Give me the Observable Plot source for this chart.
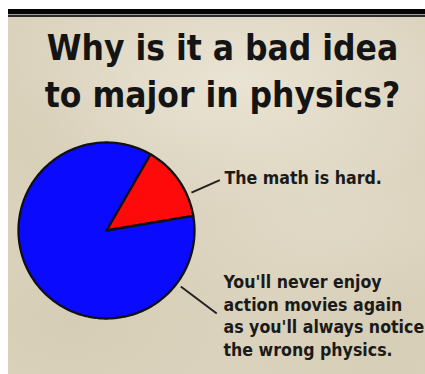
<!DOCTYPE html>
<html>
<head>
<meta charset="utf-8">
<script src="https://cdn.jsdelivr.net/npm/d3@7"></script>
<script src="https://cdn.jsdelivr.net/npm/@observablehq/plot@0.6"></script>
<style>
  html, body { margin: 0; padding: 0; background: #fff; }
  #frame { position: relative; width: 425px; height: 374px; background: #fff; overflow: hidden; }
  #panel {
    position: absolute; left: 8px; top: 9px; right: 0; bottom: 0;
    background:
      linear-gradient(to bottom, #050505 0px, #050505 5px, #9c9c9c 5px, #9c9c9c 6.5px, #2b2b2b 6.5px, #2b2b2b 8px, rgba(0,0,0,0) 8px),
      radial-gradient(ellipse 60% 35% at 55% 20%, rgba(238,232,218,0.8), rgba(238,232,218,0) 100%),
      radial-gradient(ellipse 40% 30% at 75% 55%, rgba(230,223,206,0.55), rgba(230,223,206,0) 100%),
      radial-gradient(ellipse 35% 25% at 15% 85%, rgba(206,196,170,0.35), rgba(206,196,170,0) 100%),
      radial-gradient(ellipse 30% 30% at 90% 92%, rgba(208,198,174,0.35), rgba(208,198,174,0) 100%),
      radial-gradient(ellipse 30% 25% at 10% 30%, rgba(208,198,172,0.35), rgba(208,198,172,0) 100%),
      #dad2bc;
  }
  #chart { position: absolute; left: 0; top: 0; }
</style>
</head>
<body>
<div id="frame">
  <div id="panel"></div>
  <div id="chart"></div>
</div>
<script>
// ---- data ----
const titleLines = ["Why is it a bad idea", "to major in physics?"];
const categories = ["The math is hard.", "You'll never enjoy\naction movies again\nas you'll always notice\nthe wrong physics."];
const values = [14, 86];

// ---- style / layout ----
const sliceColors = ["#ff0a0a", "#0a0aff"];
const W = 425, H = 374;
const cx = 106, cy = 230, R = 88;
const startDeg = 30;
const labelAngles = [66, 127];     // leader-line directions (deg clockwise from 12 o'clock)
const leaderR = [[93, 124], [93, 138]];
const labelPos = [{x: 224, y: 183}, {x: 223, y: 355}];
const titleBaselines = [59, 106];
const fontFam = "'DejaVu Sans Condensed', 'DejaVu Sans', sans-serif";

const rad = d => d * Math.PI / 180;
const pie = d3.pie().sort(null).value(d => d.value).startAngle(rad(startDeg)).endAngle(rad(startDeg + 360));
const slices = pie(categories.map((c, i) => ({category: c, value: values[i], color: sliceColors[i]})));

function slicePoints(s) {
  const pts = [{x: cx, y: cy}];
  const n = Math.max(2, Math.ceil((s.endAngle - s.startAngle) / rad(1)));
  for (let k = 0; k <= n; ++k) {
    const a = s.startAngle + (s.endAngle - s.startAngle) * k / n;
    pts.push({x: cx + R * Math.sin(a), y: cy - R * Math.cos(a)});
  }
  pts.push({x: cx, y: cy});
  return pts;
}

const leaders = categories.map((c, i) => {
  const a = rad(labelAngles[i]);
  return {
    x1: cx + leaderR[i][0] * Math.sin(a), y1: cy - leaderR[i][0] * Math.cos(a),
    x2: cx + leaderR[i][1] * Math.sin(a), y2: cy - leaderR[i][1] * Math.cos(a)
  };
});

const titleData = titleLines.map((t, i) => ({text: t, x: 222, y: titleBaselines[i]}));
const labelData = categories.map((t, i) => ({text: t, ...labelPos[i]}));

const chart = Plot.plot({
  width: W, height: H, margin: 0,
  x: {domain: [0, W], range: [0, W], axis: null},
  y: {domain: [0, H], range: [0, H], axis: null},
  style: {background: "transparent", overflow: "visible"},
  marks: [
    ...slices.map(s => Plot.line(slicePoints(s), {
      x: "x", y: "y", fill: s.data.color, stroke: "#111", strokeWidth: 2.3,
      strokeLinejoin: "round", curve: "linear"
    })),
    Plot.link(leaders, {x1: "x1", y1: "y1", x2: "x2", y2: "y2", stroke: "#222", strokeWidth: 2}),
    Plot.text(titleData, {
      x: "x", y: "y", text: "text", textAnchor: "middle", lineAnchor: "bottom",
      fontSize: 35, fontWeight: "bold", fontFamily: fontFam, fill: "#141414"
    }),
    Plot.text(labelData, {
      x: "x", y: "y", text: "text", textAnchor: "start", lineAnchor: "bottom",
      fontSize: 17.6, lineHeight: 1.27, fontWeight: "bold", fontFamily: fontFam, fill: "#1a1a1a"
    })
  ]
});
document.getElementById("chart").appendChild(chart);
</script>
</body>
</html>
